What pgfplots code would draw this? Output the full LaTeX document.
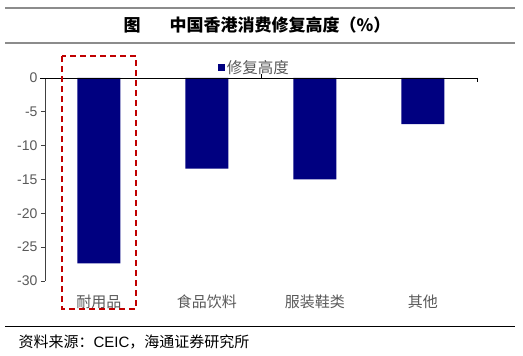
\documentclass[border=0pt]{standalone}
\usepackage{pgfplots}
\pgfplotsset{compat=1.18}
\usepackage{fontspec}
\setmainfont{Liberation Sans}
\newfontfamily\cjk{Noto Sans CJK SC}
\definecolor{barnavy}{HTML}{000080}
\definecolor{lblgray}{HTML}{595959}
\definecolor{boxred}{HTML}{C00000}
\begin{document}
\begin{tikzpicture}[x=1pt,y=1pt]
\useasboundingbox (0,0) rectangle (523,356);
% header lines
\draw[line width=2pt, color=gray!90] (5,348) -- (515,348);
\draw[line width=2pt, color=gray!90] (5,313) -- (515,313);
\node[font=\cjk\bfseries\fontsize{17}{20}\selectfont] at (132,331) {图};
\node[font=\cjk\bfseries\fontsize{17}{20}\selectfont, anchor=west] at (166,331) {中国香港消费修复高度（\%）};
% footer
\draw[line width=0.9pt, black] (5,30) -- (515,30);
\node[font=\cjk\fontsize{15}{17}\selectfont, anchor=west] at (15,14) {资料来源：{\rmfamily CEIC}，海通证券研究所};
\begin{axis}[
  at={(45pt,75pt)}, anchor=south west,
  width=432pt, height=203pt, scale only axis,
  xmin=-0.5, xmax=3.5, ymin=-30, ymax=0,
  clip=false,
  axis x line*=bottom, axis y line*=left,
  x axis line style={draw=none},
  y axis line style={draw=black!75, line width=0.9pt},
  ytick={-30,-25,...,0},
  ytick style={draw=black!75, line width=0.9pt},
  tick align=outside,
  major tick length=4pt,
  xtick={0,1,2,3},
  xticklabels={耐用品,食品饮料,服装鞋类,其他},
  xtick style={draw=none},
  x tick label style={font=\cjk\fontsize{15}{17}\selectfont, text=lblgray, yshift=-6pt},
  y tick label style={font=\fontsize{14}{16}\selectfont, text=lblgray},
  /pgf/number format/assume math mode=true,
  ybar, bar width=43pt,
  legend style={at={(axis cs:1.1,1.5)}, anchor=west, draw=none, fill=none,
     font=\cjk\fontsize{15.5}{17}\selectfont, text=lblgray, inner sep=0pt,
     legend cell align=left},
  legend image code/.code={\fill[barnavy] (0pt,-3.5pt) rectangle (7pt,3.5pt);},
]
\addplot[fill=barnavy, draw=none] coordinates {(0,-27.4) (1,-13.4) (2,-15.0) (3,-6.8)};
\addlegendentry{修复高度}
\draw[black, line width=0.9pt] (axis cs:-0.546,0) -- (axis cs:3.5,0);
\draw[black, line width=0.9pt] (axis cs:1.5,0) -- (axis cs:1.5,0.6);
\draw[black, line width=0.9pt] (axis cs:3.5,0) -- (axis cs:3.5,-0.6);
\draw[boxred, line width=1.6pt, dash pattern=on 6pt off 4pt] (axis cs:-0.343,3.25) rectangle (axis cs:0.343,-34.1);
\end{axis}
\end{tikzpicture}
\end{document}
